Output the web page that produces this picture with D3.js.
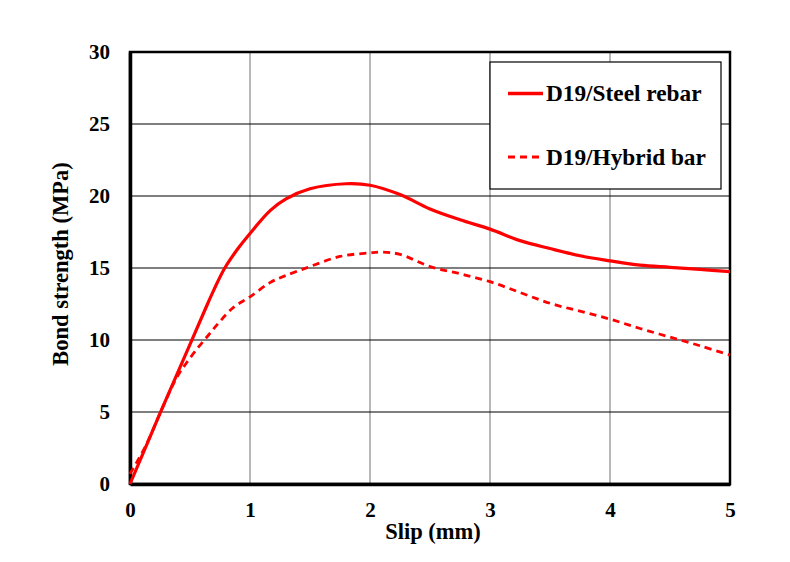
<!DOCTYPE html>
<html><head><meta charset="utf-8">
<script src="https://cdn.jsdelivr.net/npm/d3@7"></script>
<style>body{margin:0;background:#fff}svg{display:block}</style>
</head><body>
<script>
const xTicks = [0,1,2,3,4,5];
const yTicks = [0,5,10,15,20,25,30];
const steelSlip = [0,0.25,0.5,0.625,0.7,0.79,0.9,1,1.17,1.3,1.5,1.8,2,2.25,2.5,2.75,3,3.25,3.5,3.75,4,4.25,4.5,4.75,5];
const steelBond = [0,4.9,9.7,12.1,13.5,15.0,16.35,17.4,19.0,19.8,20.5,20.85,20.75,20.1,19.1,18.35,17.7,16.9,16.35,15.85,15.5,15.2,15.05,14.9,14.75];
const hybridSlip = [0,0.14,0.26,0.39,0.47,0.57,0.66,0.74,0.86,1,1.17,1.29,1.5,1.75,2,2.1,2.25,2.5,2.75,3,3.25,3.5,3.75,4,4.25,4.5,4.75,5];
const hybridBond = [0.7,2.8,5.1,7.4,8.4,9.5,10.4,11.2,12.25,13.0,14.0,14.45,15.1,15.8,16.05,16.1,15.95,15.1,14.6,14.05,13.3,12.55,12.0,11.45,10.8,10.2,9.6,8.95];
const seriesNames = ["D19/Steel rebar","D19/Hybrid bar"];

const W=790,H=562;
const m={l:130,t:52,r:730,b:484};
const svg=d3.select("body").append("svg").attr("width",W).attr("height",H);
const x=d3.scaleLinear().domain([0,5]).range([m.l,m.r]);
const y=d3.scaleLinear().domain([0,30]).range([m.b,m.t]);
const font="'Liberation Serif','Times New Roman',serif";

// grid
svg.append("g").selectAll("line").data(xTicks.slice(1,-1)).join("line")
  .attr("x1",d=>x(d)).attr("x2",d=>x(d)).attr("y1",m.t).attr("y2",m.b)
  .attr("stroke","#888").attr("stroke-width",1.2);
svg.append("g").selectAll("line").data(yTicks.slice(1,-1)).join("line")
  .attr("x1",m.l).attr("x2",m.r).attr("y1",d=>y(d)).attr("y2",d=>y(d))
  .attr("stroke","#000").attr("stroke-width",1.2);

// frame
svg.append("rect").attr("x",m.l).attr("y",m.t).attr("width",m.r-m.l).attr("height",m.b-m.t)
  .attr("fill","none").attr("stroke","#000").attr("stroke-width",2.5);

// axes
const xAxis=d3.axisBottom(x).tickValues(xTicks).tickSize(0).tickPadding(18).tickFormat(d3.format("d"));
const gx=svg.append("g").attr("transform",`translate(0,${m.b})`).call(xAxis);
gx.select(".domain").attr("stroke","#000").attr("stroke-width",3.5);
gx.selectAll("text").attr("font-family",font).attr("font-weight","bold").attr("font-size",21).attr("fill","#000");
const yAxis=d3.axisLeft(y).tickValues(yTicks).tickSize(0).tickPadding(20).tickFormat(d3.format("d"));
const gy=svg.append("g").attr("transform",`translate(${m.l},0)`).call(yAxis);
gy.select(".domain").attr("stroke","#000").attr("stroke-width",3.5);
gy.selectAll("text").attr("font-family",font).attr("font-weight","bold").attr("font-size",21).attr("fill","#000");

// curves
const line=d3.line().x(d=>x(d[0])).y(d=>y(d[1])).curve(d3.curveCatmullRom.alpha(0.5));
svg.append("path").datum(steelSlip.map((s,i)=>[s,steelBond[i]])).attr("d",line)
  .attr("fill","none").attr("stroke","#ff0000").attr("stroke-width",3.2);
svg.append("path").datum(hybridSlip.map((s,i)=>[s,hybridBond[i]])).attr("d",line)
  .attr("fill","none").attr("stroke","#ff0000").attr("stroke-width",2.8).attr("stroke-dasharray","7,5");

// axis titles
svg.append("text").attr("x",433).attr("y",539).attr("text-anchor","middle")
  .attr("font-family",font).attr("font-weight","bold").attr("font-size",22.5).text("Slip (mm)");
svg.append("text").attr("transform",`translate(68,264) rotate(-90)`).attr("text-anchor","middle")
  .attr("font-family",font).attr("font-weight","bold").attr("font-size",22.5).text("Bond strength (MPa)");

// legend
const lg=svg.append("g");
lg.append("rect").attr("x",490).attr("y",62).attr("width",231).attr("height",127)
  .attr("fill","#fff").attr("stroke","#000").attr("stroke-width",1.2);
const ly=[93.5,157];
seriesNames.forEach((n,i)=>{
  lg.append("line").attr("x1",508).attr("x2",543).attr("y1",ly[i]).attr("y2",ly[i])
    .attr("stroke","#ff0000").attr("stroke-width",i?2.8:3.5).attr("stroke-dasharray",i?"7,5":null);
  lg.append("text").attr("x",546).attr("y",ly[i]+7.5).attr("font-family",font).attr("font-weight","bold")
    .attr("font-size",23.3).text(n);
});
</script>
</body></html>
